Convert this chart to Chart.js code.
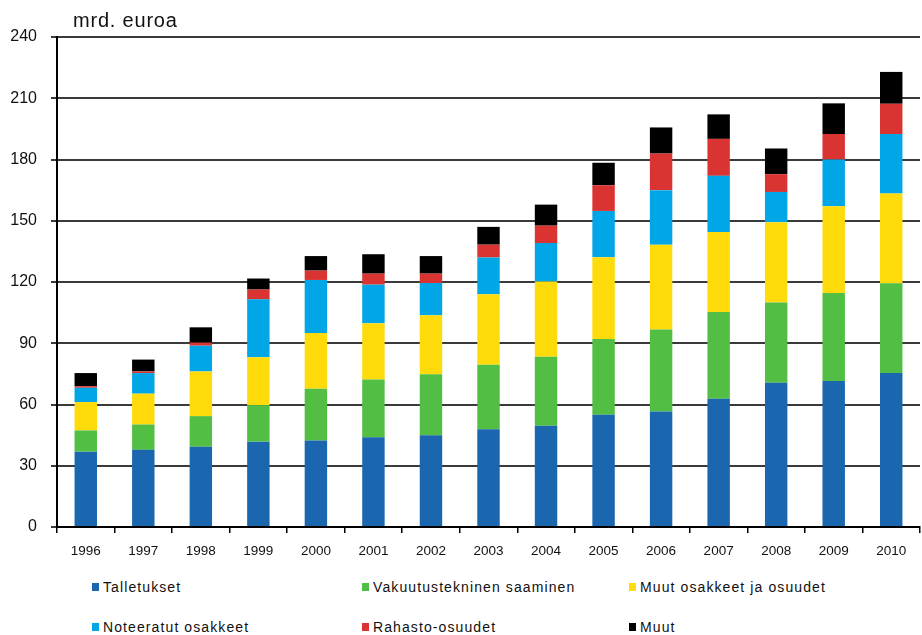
<!DOCTYPE html>
<html>
<head>
<meta charset="utf-8">
<script src="https://cdn.jsdelivr.net/npm/chart.js@4"></script>
<style>
  html, body { margin: 0; padding: 0; background: #fff; }
  #wrap { position: relative; width: 922px; height: 635px; overflow: hidden; }
  #c { position: absolute; left: 0; top: 0; }
  .lg { position: absolute; font-family: "Liberation Sans", Arial, sans-serif; font-size: 14px; letter-spacing: 1.1px; color: #111; white-space: nowrap; line-height: 16px; }
  .lg span.sq { position: absolute; width: 7px; height: 8px; top: 4px; }
</style>
</head>
<body>
<div id="wrap">
  <canvas id="c" width="922" height="575"></canvas>
</div>
<script>
const years = ['1996','1997','1998','1999','2000','2001','2002','2003','2004','2005','2006','2007','2008','2009','2010'];
const talletukset = [36.9, 37.8, 39.3, 41.8, 42.4, 44.0, 44.9, 47.9, 49.6, 55.0, 56.6, 62.8, 70.7, 71.5, 75.4];
const vakuutustekninen = [10.4, 12.4, 15.0, 17.9, 25.3, 28.3, 29.9, 31.6, 33.8, 37.1, 40.1, 42.5, 39.2, 43.1, 44.0];
const muutOsakkeet = [13.9, 15.1, 21.9, 23.5, 27.3, 27.5, 28.9, 34.5, 36.8, 40.0, 41.6, 39.2, 39.4, 42.5, 43.9];
const noteeratut = [7.0, 10.1, 12.6, 28.3, 26.0, 18.9, 15.8, 18.0, 18.9, 22.7, 26.7, 27.5, 14.8, 22.9, 29.2];
const rahasto = [0.8, 0.8, 1.5, 4.8, 4.6, 5.4, 4.6, 6.3, 8.5, 12.6, 17.9, 18.1, 8.7, 12.5, 14.8];
const muut = [6.4, 5.8, 7.5, 5.4, 7.1, 9.5, 8.6, 8.7, 10.3, 11.0, 12.8, 12.0, 12.6, 15.0, 15.6];
const seriesLabels = ['Talletukset', 'Vakuutustekninen saaminen', 'Muut osakkeet ja osuudet', 'Noteeratut osakkeet', 'Rahasto-osuudet', 'Muut'];
const seriesColors = ['#1A67B0', '#52BE44', '#FFDB0B', '#00A6E6', '#DA3432', '#000000'];
const yTicks = [0, 30, 60, 90, 120, 150, 180, 210, 240];
const unitLabel = 'mrd. euroa';

const seriesData = [talletukset, vakuutustekninen, muutOsakkeet, noteeratut, rahasto, muut];

const unitPlugin = {
  id: 'unitLabel',
  afterDraw(chart) {
    const ctx = chart.ctx;
    ctx.save();
    ctx.font = '20px "Liberation Sans", Arial, sans-serif';
    if ('letterSpacing' in ctx) ctx.letterSpacing = '0.8px';
    ctx.fillStyle = '#111';
    ctx.textAlign = 'left';
    ctx.textBaseline = 'middle';
    ctx.fillText(unitLabel, chart.chartArea.left + 16, 21);
    ctx.restore();
  }
};

new Chart(document.getElementById('c'), {
  type: 'bar',
  data: {
    labels: years,
    datasets: seriesData.map((d, i) => ({
      label: seriesLabels[i],
      data: d,
      backgroundColor: seriesColors[i],
      borderWidth: 0,
      barPercentage: 0.39,
      categoryPercentage: 1.0
    }))
  },
  options: {
    responsive: false,
    devicePixelRatio: 1,
    animation: false,
    layout: { padding: { top: 37, right: 2, left: 0, bottom: 0 } },
    plugins: { legend: { display: false }, tooltip: { enabled: false } },
    scales: {
      x: {
        stacked: true,
        offset: true,
        grid: { display: true, drawOnChartArea: false, drawTicks: true, tickLength: 6, color: '#000', lineWidth: 1.5, offset: true },
        border: { display: true, color: '#000', width: 2 },
        ticks: { font: { family: '"Liberation Sans", Arial, sans-serif', size: 13.5 }, color: '#111', padding: 10, maxRotation: 0 },
        afterFit(scale) { scale.height = 48; }
      },
      y: {
        stacked: true,
        min: 0,
        max: 240,
        afterBuildTicks(scale) { scale.ticks = yTicks.map(v => ({ value: v })); },
        grid: { color: '#3a3a3a', lineWidth: 2, drawTicks: true, tickLength: 6 },
        border: { display: true, color: '#000', width: 2 },
        ticks: { font: { family: '"Liberation Sans", Arial, sans-serif', size: 16 }, color: '#111', padding: 14 },
        afterFit(scale) { scale.width = 57; }
      }
    }
  },
  plugins: [unitPlugin]
});

// HTML legend (two rows, three columns)
const legendPos = [
  { x: 92, y: 579 }, { x: 362, y: 579 }, { x: 629, y: 579 },
  { x: 92, y: 619 }, { x: 362, y: 619 }, { x: 629, y: 619 }
];
const wrap = document.getElementById('wrap');
seriesLabels.forEach((lab, k) => {
  const el = document.createElement('div');
  el.className = 'lg';
  el.style.left = legendPos[k].x + 'px';
  el.style.top = legendPos[k].y + 'px';
  el.style.paddingLeft = '11px';
  const sq = document.createElement('span');
  sq.className = 'sq';
  sq.style.left = '0px';
  sq.style.background = seriesColors[k];
  el.appendChild(sq);
  el.appendChild(document.createTextNode(lab));
  wrap.appendChild(el);
});
</script>
</body>
</html>
